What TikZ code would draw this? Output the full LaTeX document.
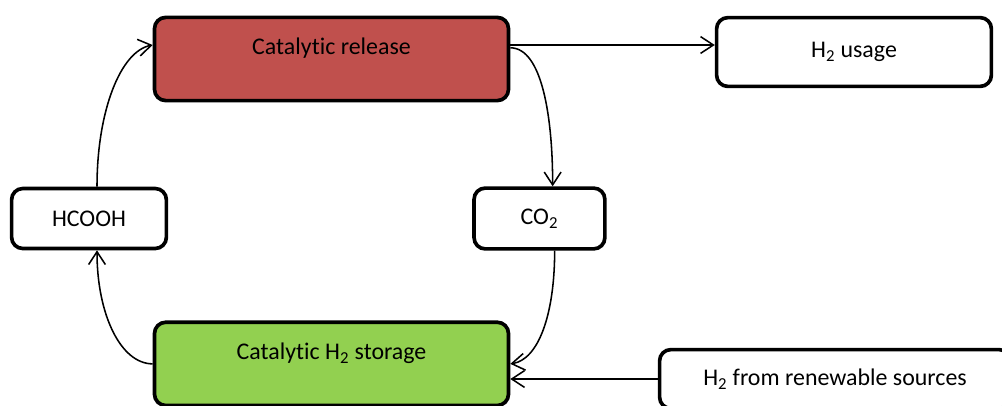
\documentclass[tikz,border=0pt]{standalone}
\usepackage{fontspec}
\setmainfont{Carlito}[Ligatures=NoCommon]
\usetikzlibrary{arrows.meta,positioning}

\definecolor{relred}{HTML}{C0504D}
\definecolor{stogreen}{HTML}{92D050}

\begin{document}
\begin{tikzpicture}[node distance=1.5cm, >={Straight Barb[length=3.2mm,width=4.2mm]},
    box/.style={rectangle, draw, line width=2.6pt, rounded corners=0.28cm, fill=white, align=center, font=\fontsize{17}{20}\selectfont},
    big/.style={box, minimum width=8.85cm, minimum height=2.08cm, text height=12pt, text depth=17.7pt},
    ar/.style={line width=1.1pt,->}]
    \useasboundingbox (0,0) rectangle (25.05,-10.125);
    \node [big, fill=relred] (release) at (8.2875,-1.475) {Catalytic release};
    \node [big, fill=stogreen, below=5.45cm of release] (storage) {Catalytic H\textsubscript{2} storage};
    \node [box, minimum width=3.87cm, minimum height=1.5cm] (hcooh) at (2.225,-5.4625) {HCOOH};
    \node [box, minimum width=3.27cm, minimum height=1.52cm, right=7.6cm of hcooh] (co2) {CO\textsubscript{2}};
    \node [box, minimum width=6.87cm, minimum height=1.72cm] (usage) at (21.35,-1.3) {H\textsubscript{2} usage};
    \node [box, minimum width=8.77cm, minimum height=1.47cm] (renew) at (20.875,-9.475) {H\textsubscript{2} from renewable sources};
    % cycle
    \draw [ar] ([xshift=0.2cm]hcooh.north) .. controls +(0,1.9) and +(-0.8,-0.15) .. ([yshift=0.35cm]release.west);
    \draw [ar] ([yshift=0.28cm]release.east) .. controls +(0.8,0) and +(0,1.7) .. ([xshift=0.33cm]co2.north);
    \draw [ar] ([xshift=0.38cm]co2.south) .. controls +(0,-1.6) and +(0.7,0.1) .. (storage.east);
    \draw [ar] (storage.west) .. controls +(-0.8,0) and +(0,-1.6) .. ([xshift=0.2cm]hcooh.south);
    % in and out
    \draw [ar] ([yshift=0.35cm]release.east) -- ([yshift=0.35cm]release.east -| usage.west);
    \draw [ar] (renew.west) -- (renew.west -| storage.east);
\end{tikzpicture}
\end{document}
